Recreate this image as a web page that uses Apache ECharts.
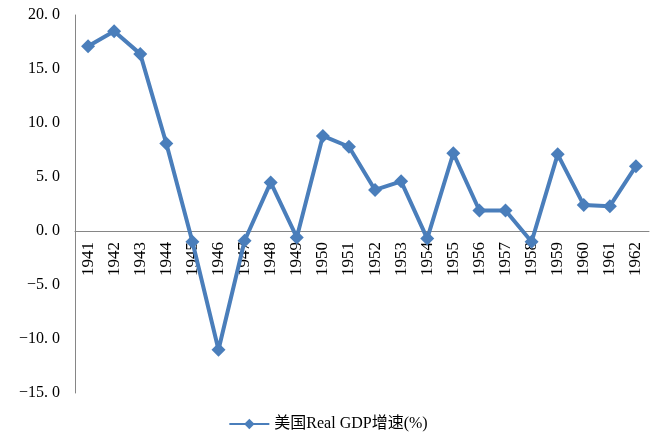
<!DOCTYPE html>
<html>
<head>
<meta charset="utf-8">
<script src="https://cdn.jsdelivr.net/npm/echarts@6/dist/echarts.min.js"></script>
<style>
  html, body { margin: 0; padding: 0; background: #fff; }
  #chart { width: 656px; height: 440px; }
</style>
</head>
<body>
<div id="chart"></div>
<script>
// US real GDP growth, annual (%)
const years = ['1941','1942','1943','1944','1945','1946','1947','1948','1949','1950','1951',
               '1952','1953','1954','1955','1956','1957','1958','1959','1960','1961','1962'];
const gdpGrowth = [17.1, 18.5, 16.4, 8.1, -1.0, -11.0, -0.9, 4.5, -0.6, 8.8, 7.8,
                   3.8, 4.6, -0.7, 7.2, 1.9, 1.9, -1.0, 7.1, 2.4, 2.3, 6.0];
const seriesName = '美国Real GDP增速(%)';
const yMin = -15, yMax = 20, yStep = 5;

const serif = '"Liberation Serif", "Noto Sans CJK SC", serif';
const plot = { left: 75, right: 7, top: 15, bottom: 47 };
const plotH = 440 - plot.top - plot.bottom;
// the category labels sit just under the zero line, so they get their own
// overlay grid whose bottom edge is that line
const zeroH = plotH * (yMax - 0) / (yMax - yMin);

const chart = echarts.init(document.getElementById('chart'));
chart.setOption({
  animation: false,
  grid: [
    { left: plot.left, right: plot.right, top: plot.top, bottom: plot.bottom },
    { left: plot.left, right: plot.right, top: plot.top, height: zeroH }
  ],
  legend: {
    bottom: 3,
    left: 'center',
    itemWidth: 40,
    itemHeight: 13,
    itemGap: 6,
    textStyle: { fontFamily: serif, fontSize: 16, color: '#000' },
    data: [seriesName]
  },
  xAxis: [{
    type: 'category',
    gridIndex: 0,
    data: years,
    boundaryGap: true,
    axisLine: { onZero: true, lineStyle: { color: '#868686', width: 1 } },
    axisTick: { show: false },
    axisLabel: { show: false }
  }, {
    type: 'category',
    gridIndex: 1,
    data: years,
    boundaryGap: true,
    axisLine: { show: false },
    axisTick: { show: false },
    axisLabel: { rotate: 90, margin: 11, fontFamily: serif, fontSize: 17, color: '#000' }
  }],
  yAxis: [{
    type: 'value',
    gridIndex: 0,
    min: yMin,
    max: yMax,
    interval: yStep,
    splitLine: { show: false },
    axisLine: { show: true, lineStyle: { color: '#868686', width: 1 } },
    axisTick: { show: false },
    axisLabel: {
      margin: 15,
      fontFamily: serif,
      fontSize: 16,
      color: '#000',
      formatter: v => v.toFixed(1).replace('.', '. ').replace('-', '\u2212')
    }
  }, {
    type: 'value',
    gridIndex: 1,
    show: false
  }],
  series: [{
    name: seriesName,
    type: 'line',
    xAxisIndex: 0,
    yAxisIndex: 0,
    data: gdpGrowth,
    symbol: 'diamond',
    symbolSize: 14,
    lineStyle: { color: '#4A7EBB', width: 4 },
    itemStyle: { color: '#4A7EBB' }
  }]
});
</script>
</body>
</html>
